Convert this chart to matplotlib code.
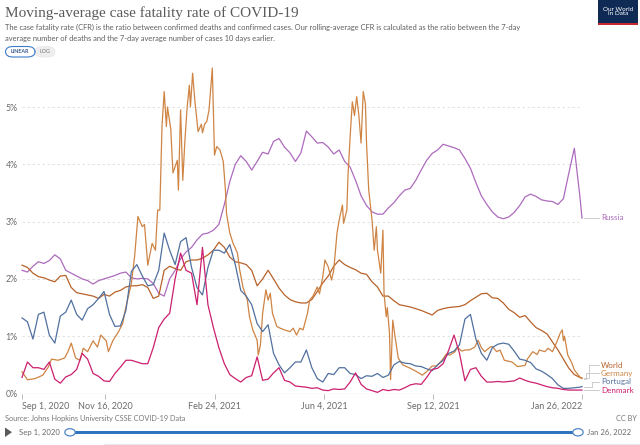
import numpy as np
import matplotlib
matplotlib.use("Agg")
import matplotlib.pyplot as plt
from matplotlib.patches import Rectangle, FancyBboxPatch, Circle, Polygon
from matplotlib.lines import Line2D

plt.rcParams['font.family'] = ['Lato', 'DejaVu Sans']

# ---------------- data (CFR in %, days since 2020-09-01) ----------------
START = "2020-09-01"
grid_days = list(range(0, 511, 5)) + [512]

russia = [2.15, 2.12, 2.22, 2.30, 2.27, 2.32, 2.42, 2.35, 2.15, 2.10,
          2.05, 2.00, 1.97, 1.91, 1.97, 2.00, 2.03, 2.06, 2.10, 2.12,
          2.02, 2.00, 2.01, 2.00, 1.92, 1.75, 1.70, 2.00, 2.15, 2.35,
          2.47, 2.55, 2.68, 2.78, 2.80, 2.85, 2.95, 3.30, 3.70, 4.00,
          4.15, 4.05, 3.90, 4.05, 4.21, 4.18, 4.40, 4.45, 4.30, 4.20,
          4.05, 4.20, 4.58, 4.48, 4.37, 4.38, 4.30, 4.18, 4.25, 4.05,
          3.95, 3.72, 3.45, 3.28, 3.17, 3.13, 3.13, 3.24, 3.33, 3.45,
          3.55, 3.58, 3.72, 3.90, 4.07, 4.19, 4.25, 4.35, 4.32, 4.29,
          4.25, 4.10, 3.93, 3.68, 3.45, 3.30, 3.17, 3.08, 3.05, 3.08,
          3.16, 3.28, 3.43, 3.48, 3.44, 3.38, 3.36, 3.35, 3.30, 3.40,
          3.85, 4.28, 3.45, 3.06]

world = [2.24, 2.20, 2.10, 2.04, 2.02, 1.98, 1.95, 2.05, 2.06, 1.85,
         1.76, 1.74, 1.72, 1.70, 1.66, 1.73, 1.70, 1.77, 1.80, 1.86,
         1.88, 1.88, 1.90, 1.85, 1.66, 1.70, 2.15, 2.22, 2.18, 2.15,
         2.30, 2.33, 2.33, 2.36, 2.42, 2.50, 2.64, 2.55, 2.38, 2.30,
         2.28, 2.25, 2.15, 1.88, 2.00, 2.15, 2.00, 1.84, 1.72, 1.64,
         1.60, 1.58, 1.58, 1.64, 1.78, 1.93, 2.05, 2.22, 2.33, 2.25,
         2.20, 2.16, 2.10, 2.08, 1.95, 1.86, 1.70, 1.70, 1.62, 1.55,
         1.53, 1.51, 1.48, 1.45, 1.41, 1.37, 1.45, 1.48, 1.50, 1.51,
         1.52, 1.55, 1.62, 1.68, 1.74, 1.75, 1.67, 1.66, 1.58, 1.47,
         1.41, 1.33, 1.36, 1.25, 1.15, 1.10, 1.04, 0.90, 0.76, 0.60,
         0.44, 0.33, 0.28, 0.27]

portugal = [1.32, 1.25, 0.95, 1.38, 1.42, 1.02, 0.88, 1.35, 1.42, 1.63,
            1.38, 1.28, 1.48, 1.55, 1.66, 1.78, 1.38, 1.17, 1.18, 1.45,
            2.13, 2.25, 2.05, 1.88, 1.90, 2.15, 2.80, 2.50, 2.25, 2.65,
            2.72, 2.20, 1.85, 1.72, 2.20, 2.50, 2.50, 2.45, 2.60, 2.25,
            1.80, 1.70, 1.55, 1.22, 1.08, 1.20, 0.70, 0.50, 0.36, 0.45,
            0.55, 0.55, 0.76, 0.45, 0.26, 0.20, 0.35, 0.33, 0.45, 0.45,
            0.35, 0.33, 0.26, 0.31, 0.30, 0.35, 0.28, 0.32, 0.50, 0.56,
            0.53, 0.52, 0.48, 0.47, 0.43, 0.40, 0.50, 0.58, 0.70, 0.74,
            0.85, 1.30, 1.38, 0.95, 0.70, 0.58, 0.80, 0.86, 0.88, 0.86,
            0.74, 0.60, 0.58, 0.54, 0.43, 0.39, 0.33, 0.26, 0.15, 0.09,
            0.09, 0.10, 0.11, 0.12]

denmark = [0.28, 0.55, 0.45, 0.45, 0.42, 0.55, 0.25, 0.18, 0.29, 0.33,
           0.42, 0.70, 0.60, 0.35, 0.30, 0.22, 0.21, 0.35, 0.46, 0.58,
           0.58, 0.55, 0.52, 0.52, 0.80, 1.15, 1.30, 1.40, 2.00, 2.45,
           2.15, 2.10, 1.55, 2.55, 1.55, 1.15, 0.80, 0.52, 0.33, 0.26,
           0.20, 0.28, 0.31, 0.64, 0.23, 0.25, 0.36, 0.45, 0.23, 0.20,
           0.13, 0.12, 0.11, 0.09, 0.10, 0.06, 0.05, 0.08, 0.07, 0.08,
           0.20, 0.36, 0.16, 0.08, 0.05, 0.02, 0.07, 0.05, 0.07, 0.06,
           0.10, 0.15, 0.17, 0.16, 0.28, 0.42, 0.44, 0.52, 0.75, 1.02,
           0.70, 0.22, 0.42, 0.45, 0.30, 0.20, 0.20, 0.21, 0.20, 0.21,
           0.22, 0.27, 0.23, 0.20, 0.18, 0.15, 0.12, 0.10, 0.09, 0.07,
           0.06, 0.06, 0.06, 0.06]

germany_days = [0, 5, 12, 19, 24, 27, 33, 39, 42, 45, 49, 53, 56, 60, 65, 69, 72, 77, 79, 83,
                88, 92, 95, 100, 103, 106, 110, 112, 115, 119, 122, 124, 126, 128, 130, 132, 133, 136, 138, 142,
                143, 145, 147, 149, 151, 153, 154, 156, 158, 161, 164, 165, 167, 169, 171, 174, 176, 178, 181, 184,
                186, 187, 190, 193, 197, 199, 202, 206, 208, 211, 215, 216, 218, 220, 223, 225, 227, 229, 233, 236,
                240, 245, 248, 251, 254, 257, 261, 263, 266, 270, 272, 275, 277, 280, 283, 285, 288, 290, 293, 294,
                297, 298, 300, 302, 304, 306, 308, 310, 312, 314, 315, 317, 320, 322, 324, 325, 328, 330, 331, 333,
                334, 336, 337, 339, 341, 344, 348, 355, 361, 366, 370, 375, 379, 384, 388, 391, 396, 398, 402, 405,
                409, 414, 417, 420, 423, 428, 430, 434, 437, 441, 448, 453, 460, 462, 467, 471, 473, 478, 481, 485,
                489, 492, 494, 495, 496, 499, 503, 505, 510, 512]
germany = [0.38, 0.24, 0.26, 0.32, 0.46, 0.60, 0.58, 0.62, 0.73, 0.88, 0.62, 0.58, 0.79, 0.73, 0.92, 0.81, 1.02, 0.92, 0.73, 0.92,
           1.07, 1.22, 1.51, 1.92, 2.40, 3.09, 2.91, 2.95, 2.24, 2.62, 2.50, 3.20, 3.20, 4.66, 5.27, 4.66, 5.00, 4.62, 3.85, 4.07,
           3.55, 4.95, 3.72, 4.43, 5.00, 5.38, 5.00, 5.59, 5.12, 4.57, 4.70, 4.55, 4.70, 4.75, 4.95, 5.68, 4.16, 4.31, 4.25, 4.05,
           3.55, 3.14, 2.80, 2.62, 2.45, 2.16, 1.86, 1.63, 1.34, 1.11, 0.93, 0.67, 0.85, 1.40, 1.81, 1.63, 1.75, 1.40, 1.17, 1.14,
           1.11, 1.08, 1.14, 1.02, 1.14, 1.11, 1.40, 1.63, 1.70, 1.86, 1.74, 2.04, 2.33, 2.21, 1.98, 2.15, 2.80, 3.03, 3.29, 2.97,
           3.20, 3.78, 4.48, 5.09, 4.85, 5.18, 4.85, 4.37, 5.27, 5.05, 4.37, 3.55, 3.03, 2.50, 2.91, 2.50, 2.10, 2.85, 1.75, 1.34,
           1.50, 1.05, 0.24, 1.28, 1.00, 0.62, 0.50, 0.44, 0.38, 0.32, 0.38, 0.48, 0.48, 0.58, 0.69, 0.67, 0.73, 0.81, 0.74, 0.76,
           0.76, 0.81, 0.93, 0.80, 0.73, 0.81, 0.82, 0.73, 0.76, 0.58, 0.55, 0.47, 0.49, 0.60, 0.73, 0.68, 0.76, 0.73, 0.79, 0.73,
           0.90, 1.05, 1.11, 0.92, 1.00, 0.67, 0.52, 0.41, 0.29, 0.26]

tick_dates = ["2020-09-01", "2020-11-16", "2021-02-24", "2021-06-04", "2021-09-12", "2022-01-26"]
tick_labels = ["Sep 1, 2020", "Nov 16, 2020", "Feb 24, 2021", "Jun 4, 2021", "Sep 12, 2021", "Jan 26, 2022"]
y_ticks = [0, 1, 2, 3, 4, 5]
y_labels = ["0%", "1%", "2%", "3%", "4%", "5%"]

series_names = ["Russia", "World", "Germany", "Portugal", "Denmark"]
colors = {"Russia": "#ad6bbd", "World": "#b8622a", "Germany": "#cf8444",
          "Portugal": "#51709f", "Denmark": "#cc1f6e"}

# ---------------- figure ----------------
W, H = 640, 445
fig = plt.figure(figsize=(W / 100, H / 100), dpi=100)
fig.patch.set_facecolor("white")


def fx(p):
    return p / W


def fy(p):
    return 1 - p / H


ax_l, ax_r, ax_b, ax_t = 22, 582, 393.5, 66.9
ax = fig.add_axes([fx(ax_l), fy(ax_b), (ax_r - ax_l) / W, (ax_b - ax_t) / H])
ax.set_facecolor("none")

t0 = np.datetime64(START)


def to_dates(days):
    return t0 + np.array(days).astype("timedelta64[D]")


gx = to_dates(grid_days)
data = {"Russia": (gx, russia), "World": (gx, world),
        "Germany": (to_dates(germany_days), germany),
        "Portugal": (gx, portugal), "Denmark": (gx, denmark)}

for yv in y_ticks[1:]:
    ax.axhline(yv, color="#dddddd", lw=0.6, ls=(0, (3, 3)), zorder=0)
ax.axhline(0, color="#b0b0b0", lw=0.8, zorder=1)

for name in series_names:
    xs, ys = data[name]
    ax.plot(xs, ys, color=colors[name], lw=0.9, clip_on=False, zorder=3,
            solid_joinstyle="round")

ax.set_xlim(t0, np.datetime64("2022-01-26"))
ax.set_ylim(0, 5.7)
for s in ax.spines.values():
    s.set_visible(False)

ax.set_yticks(y_ticks)
ax.set_yticklabels(y_labels)
ax.tick_params(axis="y", length=0, pad=3, labelsize=6.3, labelcolor="#6b6b6b")
ax.set_xticks(np.array(tick_dates, dtype="datetime64[D]"))
ax.set_xticklabels(tick_labels)
ax.tick_params(axis="x", length=3.5, width=0.6, color="#b0b0b0", pad=2.5,
               labelsize=6.5, labelcolor="#6b6b6b")
xl = ax.get_xticklabels()
xl[0].set_ha("left")
xl[-1].set_ha("right")

# ---------------- end-of-line labels with connectors ----------------
label_y = {"Russia": 218, "World": 365, "Germany": 373.3, "Portugal": 381.8, "Denmark": 390.3}
end_y = {"Russia": 3.06, "World": 0.27, "Germany": 0.26, "Portugal": 0.12, "Denmark": 0.06}
elbow_x = {"Russia": 590, "World": 589, "Germany": 586, "Portugal": 592, "Denmark": 594}
scale = (ax_b - ax_t) / 5.7
for name in series_names:
    yend = ax_b - end_y[name] * scale
    ly = label_y[name]
    ex = elbow_x[name]
    xsL = [583.5, ex, ex, 599]
    ysL = [yend, yend, ly, ly]
    fig.add_artist(Line2D([fx(v) for v in xsL], [fy(v) for v in ysL],
                          color="#c4c4c4", lw=0.6))
    fig.text(fx(601), fy(ly), name, color=colors[name], fontsize=5.8,
             va="center", ha="left")

# ---------------- header ----------------
fig.text(fx(5), fy(17), "Moving-average case fatality rate of COVID-19",
         family=["Liberation Serif", "DejaVu Serif"], fontsize=11.0, color="#5b5b5b",
         va="baseline", ha="left")
fig.text(fx(5), fy(27.5),
         "The case fatality rate (CFR) is the ratio between confirmed deaths and confirmed cases. "
         "Our rolling-average CFR is calculated as the ratio between the 7-day",
         fontsize=5.45, color="#5f5f5f", va="center", ha="left")
fig.text(fx(5), fy(38.5),
         "average number of deaths and the 7-day average number of cases 10 days earlier.",
         fontsize=5.45, color="#5f5f5f", va="center", ha="left")

# LINEAR / LOG toggle
fig.add_artist(FancyBboxPatch((fx(35), fy(57)), fx(55) - fx(35), (57 - 46.5) / H,
                              boxstyle="round,pad=0,rounding_size=0.012",
                              fc="#eeeeee", ec="#e6e6e6", lw=0.5))
fig.add_artist(FancyBboxPatch((fx(5.5), fy(57)), fx(35) - fx(5.5), (57 - 46.5) / H,
                              boxstyle="round,pad=0,rounding_size=0.012",
                              fc="white", ec="#3d7cc9", lw=0.8))
fig.text(fx(20.2), fy(51.8), "LINEAR", fontsize=3.9, color="#3d5f8f", ha="center", va="center",
         weight="bold")
fig.text(fx(45), fy(51.8), "LOG", fontsize=3.9, color="#777777", ha="center", va="center")

# OWID logo
fig.add_artist(Rectangle((fx(598), fy(25)), fx(638) - fx(598), 25 / H, fc="#0f2a54", ec="none"))
fig.add_artist(Rectangle((fx(598), fy(25)), fx(638) - fx(598), 2.2 / H, fc="#c8272e", ec="none"))
fig.text(fx(618), fy(11.5), "Our World\nin Data", fontsize=4.6, color="white",
         ha="center", va="center", linespacing=0.95)

# ---------------- footer ----------------
fig.text(fx(5), fy(418.5), "Source: Johns Hopkins University CSSE COVID-19 Data",
         fontsize=5.3, color="#777777", ha="left", va="center")
fig.text(fx(637), fy(418.5), "CC BY", fontsize=5.3, color="#777777", ha="right", va="center")

# timeline
fig.add_artist(Polygon([[fx(5), fy(427.5)], [fx(5), fy(437)], [fx(12), fy(432.2)]],
                       closed=True, fc="#5a5a5a", ec="none"))
fig.text(fx(19), fy(432.5), "Sep 1, 2020", fontsize=5.6, color="#6b6b6b", ha="left", va="center")
fig.text(fx(587), fy(432.5), "Jan 26, 2022", fontsize=5.6, color="#6b6b6b", ha="left", va="center")
fig.add_artist(Rectangle((fx(70), fy(434)), fx(578) - fx(70), 3.4 / H, fc="#2f74c0", ec="none"))
for cx in (70, 578):
    fig.add_artist(Circle((fx(cx), fy(432.3)), 5.2 / W, fc="white", ec="#4f86c6", lw=0.9,
                          transform=fig.transFigure))
fig.add_artist(Line2D([fx(104), fx(640)], [fy(443.5), fy(443.5)], color="#e4e4e4", lw=0.6))

fig.savefig("out.png", dpi=100, facecolor="white")
